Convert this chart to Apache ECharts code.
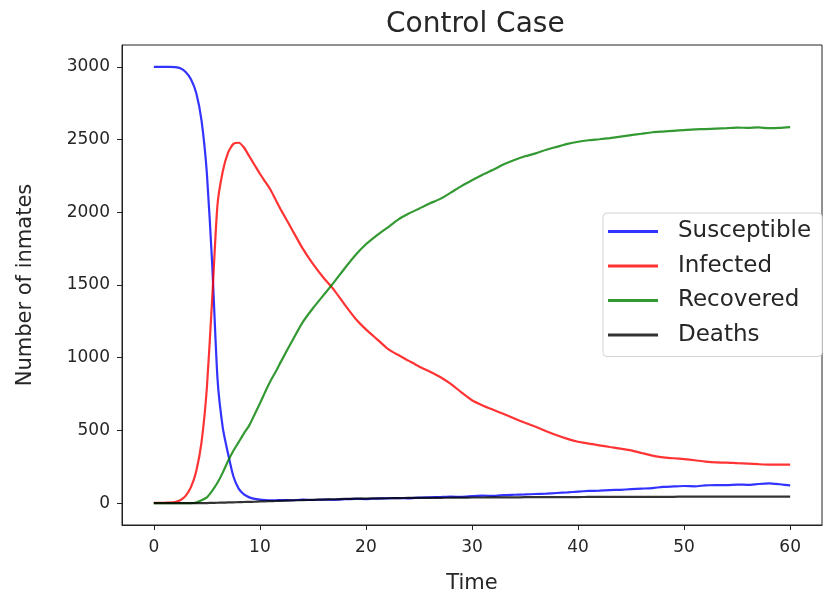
<!DOCTYPE html>
<html>
<head>
<meta charset="utf-8">
<script src="https://cdn.jsdelivr.net/npm/echarts@6/dist/echarts.min.js"></script>
<style>
  html, body { margin: 0; padding: 0; background: #fff; }
  #main { width: 825px; height: 592px; }
</style>
</head>
<body>
<div id="main"></div>
<script>
var chartDom = document.getElementById('main');
var myChart = echarts.init(chartDom);

// time steps: half steps during the outbreak, then whole days
var time = [0, 0.5, 1, 1.5, 2, 2.5, 3, 3.5, 4, 4.5, 5, 5.5, 6, 6.5, 7, 7.5, 8, 8.5, 9, 9.5, 10, 10.5, 11, 11.5, 12,
    13, 14, 15, 16, 17, 18, 19, 20, 21, 22, 23, 24, 25, 26, 27, 28, 29, 30, 31, 32, 33, 34, 35, 36,
    37, 38, 39, 40, 41, 42, 43, 44, 45, 46, 47, 48, 49, 50, 51, 52, 53, 54, 55, 56, 57, 58, 59, 60];

var susceptible = [3000, 3000, 3000, 3000, 2998, 2990, 2965, 2915, 2820, 2630, 2270, 1650, 860, 520, 340, 185, 100, 60, 40, 30, 25, 22, 20, 20, 22,
    20, 24, 22, 25, 23, 27, 30, 28, 32, 33, 35, 33, 38, 40, 42, 45, 43, 48, 52, 50, 56, 58, 60, 63,
    66, 70, 74, 80, 84, 86, 90, 92, 96, 100, 104, 112, 115, 118, 116, 122, 125, 124, 128, 126, 132, 136, 130, 122];

var infected = [2, 2, 3, 4, 8, 20, 50, 110, 220, 420, 790, 1400, 2050, 2280, 2410, 2470, 2478, 2445, 2385, 2325, 2265, 2210, 2155, 2085, 2015,
    1885, 1755, 1645, 1550, 1465, 1365, 1270, 1195, 1130, 1065, 1020, 980, 940, 905, 868, 820, 762, 708, 672, 642, 613, 582, 553, 525,
    495, 467, 442, 422, 410, 398, 386, 375, 363, 345, 327, 315, 309, 303, 295, 286, 280, 279, 275, 272, 268, 265, 266, 265];

var recovered = [0, 0, 0, 0, 0, 0, 0, 0, 5, 20, 40, 85, 140, 210, 290, 360, 420, 480, 535, 610, 685, 765, 840, 905, 975,
    1110, 1240, 1340, 1430, 1520, 1615, 1705, 1780, 1840, 1893, 1948, 1990, 2025, 2060, 2092, 2135, 2180, 2220, 2258, 2292, 2330, 2360, 2385, 2405,
    2430, 2450, 2470, 2485, 2495, 2502, 2510, 2520, 2530, 2540, 2550, 2555, 2560, 2565, 2570, 2572, 2575, 2578, 2582, 2580, 2583, 2578, 2580, 2585];

var deaths = [0, 0, 0, 0, 0, 0, 0, 0, 0, 0.5, 1, 2, 3, 4, 5, 6, 7, 8, 9, 10, 12, 13, 14, 15, 16,
    19, 21, 23, 25, 27, 29, 31, 32, 33, 34, 35, 36, 36, 37, 37, 38, 38, 39, 39, 40, 40, 40, 41, 41,
    41, 42, 42, 42, 43, 43, 43, 43, 44, 44, 44, 44, 44, 45, 45, 45, 45, 45, 45, 45, 45, 45, 45, 45];

var seriesNames = ['Susceptible', 'Infected', 'Recovered', 'Deaths'];
var seriesColors = ['rgba(0,0,255,0.8)', 'rgba(255,0,0,0.8)', 'rgba(0,128,0,0.8)', 'rgba(0,0,0,0.8)'];
var xTicks = [0, 10, 20, 30, 40, 50, 60];
var yTicks = [0, 500, 1000, 1500, 2000, 2500, 3000];

var textColor = '#262626';
var fontName = 'DejaVu Sans';

function pairs(vals) {
    var out = [];
    for (var i = 0; i < time.length; i++) out.push([time[i], vals[i]]);
    return out;
}

var allData = [susceptible, infected, recovered, deaths];
var series = [];
for (var k = 0; k < allData.length; k++) {
    series.push({
        name: seriesNames[k],
        type: 'line',
        data: pairs(allData[k]),
        symbol: 'none',
        showSymbol: false,
        smooth: 0.2,
        color: seriesColors[k],
        lineStyle: { width: 2.2, color: seriesColors[k] },
        z: 2 + k
    });
}

option = {
    animation: false,
    backgroundColor: '#fff',
    title: {
        text: 'Control Case',
        left: 386,
        top: 11,
        padding: 0,
        textStyle: { fontFamily: fontName, fontSize: 28, fontWeight: 'normal', color: textColor }
    },
    grid: {
        left: 122, right: 3, top: 45, bottom: 67,
        containLabel: false,
        outerBoundsMode: 'none',
        show: true,
        borderColor: '#222',
        borderWidth: 1
    },
    legend: {
        orient: 'vertical',
        left: 603,
        top: 213,
        padding: [7, 11, 10, 5],
        itemGap: 11.5,
        itemWidth: 50,
        itemHeight: 3,
        icon: 'rect',
        backgroundColor: '#fff',
        borderColor: '#d4d4d4',
        borderWidth: 1,
        borderRadius: 4,
        data: seriesNames,
        textStyle: {
            fontFamily: fontName, fontSize: 23, color: textColor,
            lineHeight: 22, padding: [0, 0, 0, 15]
        }
    },
    xAxis: {
        type: 'value',
        min: -3,
        max: 63,
        name: 'Time',
        nameLocation: 'middle',
        nameGap: 48,
        nameTextStyle: { fontFamily: fontName, fontSize: 21, color: textColor },
        splitLine: { show: false },
        axisLine: { show: true, onZero: false, lineStyle: { color: '#222', width: 1 } },
        axisTick: { show: true, inside: false, length: 5, customValues: xTicks, lineStyle: { color: '#222' } },
        axisLabel: { customValues: xTicks, margin: 14, fontFamily: fontName, fontSize: 17, color: textColor }
    },
    yAxis: {
        type: 'value',
        min: -150,
        max: 3150,
        name: 'Number of inmates',
        nameLocation: 'middle',
        nameGap: 86,
        nameRotate: 90,
        nameTextStyle: { fontFamily: fontName, fontSize: 21, color: textColor },
        splitLine: { show: false },
        axisLine: { show: true, onZero: false, lineStyle: { color: '#222', width: 1 } },
        axisTick: { show: true, inside: false, length: 5, customValues: yTicks, lineStyle: { color: '#222' } },
        axisLabel: {
            customValues: yTicks, margin: 12, fontFamily: fontName, fontSize: 17, color: textColor,
            formatter: function (v) { return String(v); }
        }
    },
    series: series
};

myChart.setOption(option);
</script>
</body>
</html>
